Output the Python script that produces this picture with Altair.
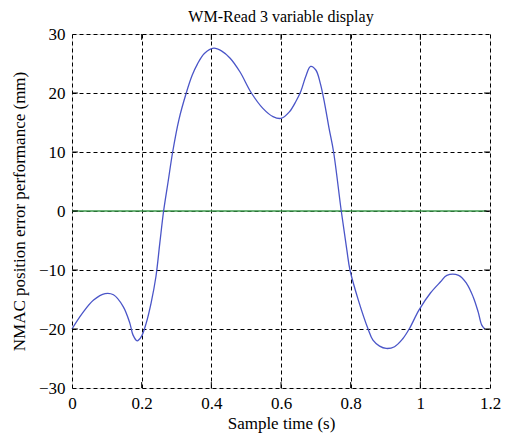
import altair as alt
import pandas as pd

# Curve
t = [0.0, 0.029, 0.062, 0.095, 0.119, 0.147, 0.166, 0.175, 0.187, 0.199, 0.213, 0.227,
     0.241, 0.252, 0.263, 0.276, 0.289, 0.307, 0.328, 0.345, 0.36, 0.38, 0.407, 0.43,
     0.454, 0.482, 0.515, 0.548, 0.577, 0.6, 0.624, 0.643, 0.657, 0.671, 0.685, 0.7,
     0.713, 0.725, 0.738, 0.751, 0.773, 0.789, 0.798, 0.822, 0.85, 0.864, 0.883, 0.902,
     0.926, 0.949, 0.968, 0.996, 1.029, 1.058, 1.076, 1.11, 1.133, 1.152, 1.166, 1.176,
     1.185]
err = [-20.0, -17.4, -15.1, -14.0, -14.2, -16.2, -19.0, -21.0, -22.0, -21.3, -19.0, -15.6,
       -11.1, -5.5, 0.0, 5.0, 10.0, 15.5, 20.0, 23.0, 24.9, 26.7, 27.6, 27.1,
       25.9, 23.6, 20.0, 17.4, 16.0, 15.7, 16.8, 18.6, 20.3, 22.8, 24.5, 23.9,
       21.6, 18.3, 14.0, 10.0, 0.0, -6.6, -10.0, -15.1, -20.0, -21.9, -22.9, -23.3,
       -23.0, -21.7, -20.0, -16.8, -13.9, -12.0, -10.9, -10.9, -12.3, -14.6, -17.1, -19.3,
       -20.0]
zero_x = [0.0, 1.19]
zero_y = [0.0, 0.0]

x_ticks = [0, 0.2, 0.4, 0.6, 0.8, 1.0, 1.2]
y_ticks = [-30, -20, -10, 0, 10, 20, 30]

df = pd.DataFrame({"t": t, "e": err, "o": list(range(len(t)))})
dz = pd.DataFrame({"t": zero_x, "e": zero_y})

xs = alt.Scale(domain=[0, 1.2], nice=False, zero=False)
ys = alt.Scale(domain=[-30, 30], nice=False, zero=False)

FONT = "Liberation Serif"

xaxis = alt.Axis(values=x_ticks, format="~g", title="Sample time (s)")
yaxis = alt.Axis(values=y_ticks, format="d", title="NMAC position error performance (mm)")

curve = alt.Chart(df).mark_line(color="#4a55c8", strokeWidth=1.3, interpolate="catmull-rom").encode(
    x=alt.X("t:Q", scale=xs, axis=xaxis),
    y=alt.Y("e:Q", scale=ys, axis=yaxis),
    order="o:Q",
)

zero = alt.Chart(dz).mark_line(color="#3c9a4c", strokeWidth=1.6).encode(
    x=alt.X("t:Q", scale=xs, axis=xaxis),
    y=alt.Y("e:Q", scale=ys, axis=yaxis),
)

# inward tick marks on the box
tb = pd.DataFrame({"t": x_ticks[1:-1]})
bottom_ticks = alt.Chart(tb).mark_rule(color="black", strokeWidth=1).encode(
    x=alt.X("t:Q", scale=xs), y=alt.datum(-30), y2=alt.datum(-29.0))
top_ticks = alt.Chart(tb).mark_rule(color="black", strokeWidth=1).encode(
    x=alt.X("t:Q", scale=xs), y=alt.datum(30), y2=alt.datum(29.0))
tl = pd.DataFrame({"e": y_ticks[1:-1]})
left_ticks = alt.Chart(tl).mark_rule(color="black", strokeWidth=1).encode(
    y=alt.Y("e:Q", scale=ys), x=alt.datum(0), x2=alt.datum(0.017))
right_ticks = alt.Chart(tl).mark_rule(color="black", strokeWidth=1).encode(
    y=alt.Y("e:Q", scale=ys), x=alt.datum(1.2), x2=alt.datum(1.183))

chart = alt.layer(zero, curve, bottom_ticks, top_ticks, left_ticks, right_ticks).properties(
    width=418, height=354,
    title=alt.TitleParams("WM-Read 3 variable display", font=FONT, fontSize=16,
                          fontWeight="normal", color="black", offset=0),
    autosize=alt.AutoSizeParams(type="none"),
    padding={"left": 64, "top": 26, "right": 11, "bottom": 45},
).configure_view(stroke="black", strokeWidth=1.6).configure(background="white").configure_axis(
    grid=True, gridColor="black", gridDash=[4, 3], gridWidth=1, gridOpacity=1,
    ticks=False, domain=False, labelFont=FONT, labelFontSize=17,
    labelColor="black", titleFont=FONT, titleFontSize=17,
    titleFontWeight="normal", titleColor="black", labelPadding=7, labelFlush=False,
).configure_axisX(titlePadding=4).configure_axisY(titlePadding=10)

chart.save("out.html", embed_options={"renderer": "svg", "actions": False})
